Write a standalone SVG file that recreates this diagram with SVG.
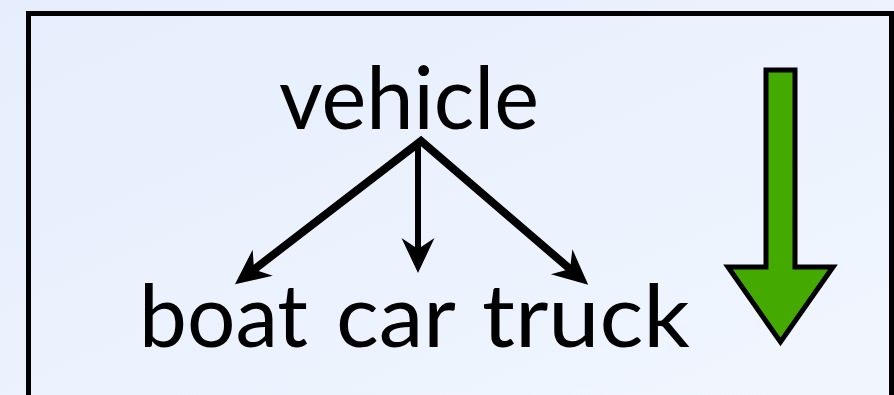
<svg xmlns="http://www.w3.org/2000/svg" width="894" height="395" viewBox="0 0 894 395">
<defs>
<linearGradient id="bg" x1="0" y1="0" x2="1" y2="1">
<stop offset="0" stop-color="#e6eefd"/>
<stop offset="1" stop-color="#f1f6fe"/>
</linearGradient>
<marker id="ah" viewBox="-12 -17 37 34" refX="0" refY="0" markerWidth="37" markerHeight="34" markerUnits="userSpaceOnUse" orient="auto-start-reverse">
<path d="M24,0 L-11,-16.5 L0,0 L-11,16.5 Z" fill="#000"/>
</marker>
</defs>
<style>
.lbl{font-family:"Lato","Open Sans","Liberation Sans",sans-serif;font-size:88px;fill:#000}
.edge{fill:none;stroke:#000;stroke-linejoin:miter}
</style>
<rect x="0" y="0" width="894" height="395" fill="url(#bg)"/>
<g id="frame">
<rect x="28.5" y="13.5" width="863" height="400" fill="none" stroke="#000" stroke-width="5"/>
</g>
<g id="connectors">
<path class="edge" d="M254,269.5 L421,141 L570,269" stroke-width="8" marker-start="url(#ah)" marker-end="url(#ah)"/>
<path class="edge" d="M418,143 L418,249" stroke-width="6" marker-end="url(#ah)"/>
</g>
<g id="node-vehicle">
<text class="lbl" x="279" y="129" textLength="260" lengthAdjust="spacingAndGlyphs">vehicle</text>
</g>
<g id="node-boat">
<text class="lbl" x="139" y="347" textLength="169" lengthAdjust="spacingAndGlyphs">boat</text>
</g>
<g id="node-car">
<text class="lbl" x="336" y="347" textLength="120" lengthAdjust="spacingAndGlyphs">car</text>
</g>
<g id="node-truck">
<text class="lbl" x="482" y="347" textLength="208" lengthAdjust="spacingAndGlyphs">truck</text>
</g>
<g id="node-down-arrow">
<path d="M766,70 L795,70 L795,267 L833,267 L780.5,342 L728,267 L766,267 Z" fill="#44aa00" stroke="#000" stroke-width="5" stroke-linejoin="miter"/>
</g>
</svg>
